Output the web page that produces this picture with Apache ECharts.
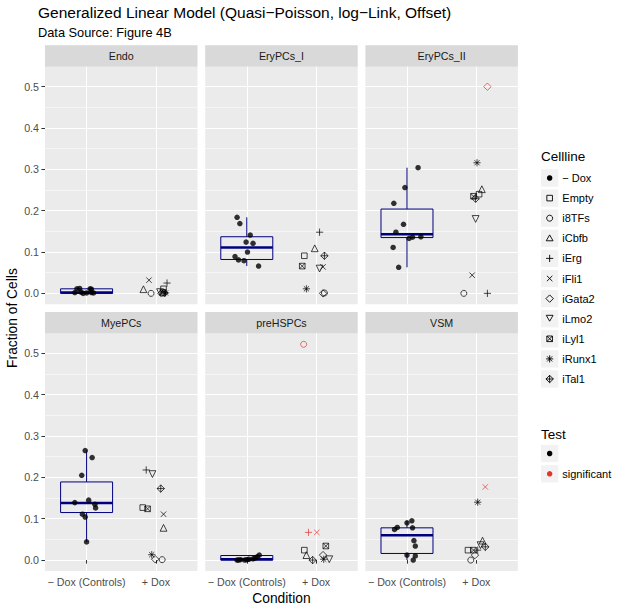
<!DOCTYPE html>
<html><head><meta charset="utf-8">
<script src="https://cdn.jsdelivr.net/npm/echarts@6/dist/echarts.min.js"></script>
<style>html,body{margin:0;padding:0;background:#fff}#c{width:617px;height:612px}</style>
</head><body><div id="c"></div>
<script>
// ---------------- data ----------------
const PANELS = ['Endo', 'EryPCs_I', 'EryPCs_II', 'MyePCs', 'preHSPCs', 'VSM'];
const CELLLINES = ['\u2212 Dox', 'Empty', 'i8TFs', 'iCbfb', 'iErg', 'iFli1', 'iGata2', 'iLmo2', 'iLyl1', 'iRunx1', 'iTal1'];
const DOX_LINES = CELLLINES.slice(1);
const X_LABELS = ['\u2212 Dox (Controls)', '+ Dox'];
const X_POS = [1, 2];
const Y_TICKS = [0, 0.1, 0.2, 0.3, 0.4, 0.5];
const Y_MINOR = [0.05, 0.15, 0.25, 0.35, 0.45];
const TEST_LEVELS = ['', 'significant'];

// controls (– Dox): jittered x position and fraction, per panel
const controlX = [
  [0.86, 0.90, 1.05, 1.07, 0.83, 0.95, 1.00, 1.07, 0.92, 1.10],
  [0.86, 0.90, 1.05, 0.99, 1.09, 1.01, 0.83, 0.88, 0.96, 1.17],
  [1.16, 0.97, 0.81, 0.95, 0.84, 1.03, 1.08, 1.20, 0.80, 0.88],
  [0.98, 1.08, 0.93, 0.83, 1.03, 1.12, 1.13, 0.94, 0.98, 1.00],
  [0.86, 0.91, 0.97, 1.03, 1.09, 1.15, 1.18, 0.88, 1.00, 1.12],
  [1.07, 1.00, 0.86, 0.82, 1.08, 1.10, 1.12, 1.00, 1.12, 1.09]
];
const controlY = [
  [0.011, 0.012, 0.011, 0.010, 0.002, 0.000, 0.001, 0.002, 0.003, 0.001],
  [0.184, 0.169, 0.141, 0.124, 0.121, 0.100, 0.089, 0.081, 0.079, 0.066],
  [0.304, 0.256, 0.218, 0.167, 0.148, 0.133, 0.136, 0.137, 0.111, 0.063],
  [0.265, 0.248, 0.205, 0.139, 0.145, 0.135, 0.126, 0.111, 0.104, 0.044],
  [0.000, 0.001, 0.000, 0.002, 0.003, 0.008, 0.012, 0.000, 0.001, 0.005],
  [0.095, 0.090, 0.079, 0.074, 0.078, 0.047, 0.034, 0.012, 0.010, 0.000]
];
// box statistics of controls: [lower whisker, Q1, median, Q3, upper whisker]
const boxStats = [
  [0.000, 0.000, 0.002, 0.011, 0.012],
  [0.066, 0.082, 0.111, 0.137, 0.184],
  [0.063, 0.135, 0.143, 0.204, 0.304],
  [0.044, 0.115, 0.138, 0.189, 0.265],
  [0.000, 0.000, 0.002, 0.011, 0.012],
  [0.000, 0.016, 0.060, 0.078, 0.095]
];
// + Dox lines, order = DOX_LINES
const doxX = [
  [2.11, 1.93, 1.82, 2.16, 1.90, 2.08, 2.06, 2.10, 2.14, 2.12],
  [1.83, 2.12, 1.98, 2.05, 2.10, 2.10, 2.05, 1.80, 1.86, 2.12],
  [2.04, 1.82, 2.08, 2.16, 1.94, 2.16, 1.99, 1.96, 2.01, 1.99],
  [1.81, 2.09, 2.11, 1.86, 2.11, 1.99, 1.95, 1.88, 1.94, 2.07],
  [1.83, 1.82, 1.86, 1.89, 2.01, 2.10, 2.19, 2.14, 2.11, 1.95],
  [1.88, 1.92, 2.09, 2.02, 2.13, 1.98, 2.06, 1.96, 2.02, 2.13]
];
const doxY = [
  [0.011, 0.000, 0.010, 0.025, 0.032, 0.000, 0.003, 0.002, 0.001, 0.001],
  [0.091, 0.001, 0.109, 0.148, 0.064, 0.000, 0.060, 0.066, 0.011, 0.091],
  [0.240, 0.000, 0.252, 0.000, 0.044, 0.500, 0.180, 0.235, 0.316, 0.229],
  [0.127, 0.001, 0.078, 0.218, 0.111, 0.002, 0.208, 0.124, 0.013, 0.173],
  [0.024, 0.522, 0.012, 0.067, 0.067, 0.012, 0.002, 0.034, 0.002, 0.000],
  [0.024, 0.000, 0.047, 0.024, 0.177, 0.012, 0.036, 0.024, 0.140, 0.032]
];
// 1 = significant
const doxSig = [
  [0, 0, 0, 0, 0, 0, 0, 0, 0, 0],
  [0, 0, 0, 0, 0, 0, 0, 0, 0, 0],
  [0, 0, 0, 0, 0, 1, 0, 0, 0, 0],
  [0, 0, 0, 0, 0, 0, 0, 0, 0, 0],
  [0, 1, 0, 1, 1, 0, 0, 0, 0, 0],
  [0, 0, 0, 0, 1, 0, 0, 0, 0, 0]
];

// ---------------- style ----------------
const FONT = 'Liberation Sans, Arial, Helvetica, sans-serif';
const NAVY = '#00007F';
const RED = '#E8322C';
const Y_MIN = -0.0262, Y_MAX = 0.5484;
const GL = [45, 205.2, 365.4], GW = 152.5;
const GT = [66.7, 333.4], GH = 237.5;
const STRIP_H = 21.5;
// symbol geometry in a 10x10 box: polygons (closed), lines, circle
const SQ = [[0,0],[10,0],[10,10],[0,10]], DIA = [[5,0],[10,5],[5,10],[0,5]];
const PLUS = [[5,0,5,10],[0,5,10,5]], CROSS = [[0,0,10,10],[10,0,0,10]];
const SHAPES = {
  '\u2212 Dox': { s: 5.5, fill: true, circle: true },
  'Empty':  { s: 5.6, poly: [SQ] },
  'i8TFs':  { s: 6, circle: true },
  'iCbfb':  { s: 6.8, poly: [[[5,0],[10,8.66],[0,8.66]]] },
  'iErg':   { s: 7.2, lines: PLUS },
  'iFli1':  { s: 5.4, lines: CROSS },
  'iGata2': { s: 7.4, poly: [DIA] },
  'iLmo2':  { s: 6.8, poly: [[[0,0],[10,0],[5,8.66]]] },
  'iLyl1':  { s: 5.6, poly: [SQ], lines: CROSS },
  'iRunx1': { s: 7.2, lines: PLUS.concat([[1.46,1.46,8.54,8.54],[8.54,1.46,1.46,8.54]]) },
  'iTal1':  { s: 7.4, poly: [DIA], lines: PLUS }
};
function symbolPath(sh) {
  if (sh.circle) return 'M5,0A5,5,0,1,1,5,10A5,5,0,1,1,5,0Z';
  let d = '';
  (sh.poly || []).forEach(pg => { d += 'M' + pg.map(q => q.join(',')).join('L') + 'Z'; });
  (sh.lines || []).forEach(l => { d += 'M' + l[0] + ',' + l[1] + 'L' + l[2] + ',' + l[3]; });
  return 'path://' + d;
}
function legendSymbol(sh, cx, cy, color) {
  const k = sh.s / 10, ox = cx - sh.s / 2, oy = cy - sh.s / 2;
  const els = [];
  if (sh.circle) {
    els.push({ type: 'circle', silent: true, shape: { cx: cx, cy: cy, r: sh.s / 2 },
      style: sh.fill ? { fill: color } : { fill: 'none', stroke: color, lineWidth: 0.9 } });
  }
  (sh.poly || []).forEach(pg => els.push({ type: 'polygon', silent: true,
    shape: { points: pg.map(q => [ox + q[0] * k, oy + q[1] * k]) },
    style: { fill: 'none', stroke: color, lineWidth: 0.9 } }));
  (sh.lines || []).forEach(l => els.push({ type: 'line', silent: true,
    shape: { x1: ox + l[0] * k, y1: oy + l[1] * k, x2: ox + l[2] * k, y2: oy + l[3] * k },
    style: { stroke: color, lineWidth: 0.9 } }));
  return els;
}

const grids = [], xAxes = [], yAxes = [], series = [], graphics = [];
PANELS.forEach((name, p) => {
  const row = Math.floor(p / 3), col = p % 3;
  const bottom = row === 1, left = col === 0;
  grids.push({ left: GL[col], top: GT[row], width: GW, height: GH, show: true,
    backgroundColor: '#EBEBEB', borderWidth: 0, containLabel: false });
  xAxes.push({ type: 'value', gridIndex: p, min: 0.4, max: 2.6,
    axisLine: { show: false },
    axisTick: { show: bottom, customValues: X_POS, length: 3.6, lineStyle: { color: '#333333', width: 1 } },
    axisLabel: { show: bottom, customValues: X_POS, margin: 6, color: '#4D4D4D', fontSize: 10.7, fontFamily: FONT,
      formatter: v => X_LABELS[X_POS.indexOf(Math.round(v))] },
    splitLine: { show: true, lineStyle: { color: '#FFFFFF', width: 1.1 } } });
  yAxes.push({ type: 'value', gridIndex: p, min: Y_MIN, max: Y_MAX,
    axisLine: { show: false },
    axisTick: { show: left, customValues: Y_TICKS, length: 3.6, lineStyle: { color: '#333333', width: 1 } },
    axisLabel: { show: left, customValues: Y_TICKS, margin: 6, color: '#4D4D4D', fontSize: 10.7, fontFamily: FONT,
      formatter: v => v.toFixed(1) },
    splitLine: { show: true, lineStyle: { color: '#FFFFFF', width: 1.1 } } });

  // strip
  graphics.push({ type: 'rect', silent: true, shape: { x: GL[col], y: GT[row] - STRIP_H, width: GW, height: STRIP_H },
    style: { fill: '#D9D9D9' } });
  graphics.push({ type: 'text', silent: true, x: GL[col] + GW / 2, y: GT[row] - STRIP_H / 2,
    style: { text: name, fill: '#1A1A1A', font: '10.7px ' + FONT, align: 'center', verticalAlign: 'middle' } });

  // boxplot of controls
  series.push({ type: 'custom', xAxisIndex: p, yAxisIndex: p, silent: true, z: 2,
    data: [[X_POS[0]].concat(boxStats[p])],
    encode: { x: 0, y: [1, 2, 3, 4, 5] },
    renderItem: (params, api) => {
      const x = api.value(0);
      const hw = api.size([0.375, 0])[0];
      const lo = api.coord([x, api.value(1)]), q1 = api.coord([x, api.value(2)]),
            md = api.coord([x, api.value(3)]), q3 = api.coord([x, api.value(4)]), hi = api.coord([x, api.value(5)]);
      return { type: 'group', children: [
        { type: 'line', shape: { x1: hi[0], y1: hi[1], x2: q3[0], y2: q3[1] }, style: { stroke: NAVY, lineWidth: 1 } },
        { type: 'line', shape: { x1: q1[0], y1: q1[1], x2: lo[0], y2: lo[1] }, style: { stroke: NAVY, lineWidth: 1 } },
        { type: 'rect', shape: { x: q3[0] - hw, y: q3[1], width: 2 * hw, height: q1[1] - q3[1] },
          style: { fill: 'none', stroke: NAVY, lineWidth: 1 } },
        { type: 'line', shape: { x1: md[0] - hw, y1: md[1], x2: md[0] + hw, y2: md[1] }, style: { stroke: NAVY, lineWidth: 2.6 } }
      ] };
    } });

  // control points
  series.push({ type: 'scatter', name: CELLLINES[0], xAxisIndex: p, yAxisIndex: p, z: 3, silent: true,
    symbol: 'circle', symbolSize: SHAPES[CELLLINES[0]].s,
    itemStyle: { color: '#000', borderWidth: 0 },
    data: controlX[p].map((x, i) => [x, controlY[p][i]]) });

  // + Dox points
  series.push({ type: 'scatter', name: '+ Dox', xAxisIndex: p, yAxisIndex: p, z: 4, silent: true,
    data: DOX_LINES.map((cl, j) => ({
      name: cl,
      value: [doxX[p][j], doxY[p][j]],
      symbol: SHAPES[cl].circle ? 'circle' : symbolPath(SHAPES[cl]),
      symbolSize: SHAPES[cl].s,
      itemStyle: { color: 'rgba(0,0,0,0)', borderColor: doxSig[p][j] ? RED : '#000', borderWidth: 0.9 }
    })) });
});
// minor grid lines
PANELS.forEach((name, p) => {
  yAxes.push({ type: 'value', gridIndex: p, min: Y_MIN, max: Y_MAX,
    axisLine: { show: false }, axisLabel: { show: false },
    axisTick: { show: false, customValues: Y_MINOR },
    splitLine: { show: true, lineStyle: { color: '#FFFFFF', width: 0.5 } } });
});

// axis titles
graphics.push({ type: 'text', silent: true, x: GL[1] + GW / 2, y: 598,
  style: { text: 'Condition', fill: '#000', font: '13.8px ' + FONT, align: 'center', verticalAlign: 'middle' } });
graphics.push({ type: 'text', silent: true, x: 12, y: (GT[0] - STRIP_H + GT[1] + GH) / 2 + 10, rotation: Math.PI / 2,
  style: { text: 'Fraction of Cells', fill: '#000', font: '13.8px ' + FONT, align: 'center', verticalAlign: 'middle' } });

// legends
const LX = 541, KEY = 17.3;
graphics.push({ type: 'text', silent: true, x: LX, y: 156,
  style: { text: 'Cellline', fill: '#000', font: '13.5px ' + FONT, align: 'left', verticalAlign: 'middle' } });
CELLLINES.forEach((cl, i) => {
  const cy = 178 + i * 20.1;
  graphics.push({ type: 'rect', silent: true, shape: { x: LX, y: cy - KEY / 2, width: KEY, height: KEY }, style: { fill: '#F2F2F2' } });
  legendSymbol(SHAPES[cl], LX + KEY / 2, cy, '#000').forEach(e => graphics.push(e));
  graphics.push({ type: 'text', silent: true, x: LX + KEY + 4, y: cy,
    style: { text: cl, fill: '#000', font: '11px ' + FONT, align: 'left', verticalAlign: 'middle' } });
});
graphics.push({ type: 'text', silent: true, x: LX, y: 434,
  style: { text: 'Test', fill: '#000', font: '13.5px ' + FONT, align: 'left', verticalAlign: 'middle' } });
TEST_LEVELS.forEach((lv, i) => {
  const cy = 453.5 + i * 20.3;
  graphics.push({ type: 'rect', silent: true, shape: { x: LX, y: cy - KEY / 2, width: KEY, height: KEY }, style: { fill: '#F2F2F2' } });
  graphics.push({ type: 'circle', silent: true, shape: { cx: LX + KEY / 2, cy: cy, r: 2.75 }, style: { fill: i ? RED : '#000' } });
  graphics.push({ type: 'text', silent: true, x: LX + KEY + 4, y: cy,
    style: { text: lv, fill: '#000', font: '11px ' + FONT, align: 'left', verticalAlign: 'middle' } });
});

const chart = echarts.init(document.getElementById('c'), null, { renderer: 'svg' });
chart.setOption({
  animation: false,
  backgroundColor: '#FFFFFF',
  title: { text: 'Generalized Linear Model (Quasi\u2212Poisson, log\u2212Link, Offset)', subtext: 'Data Source: Figure 4B',
    left: 38, top: 4, padding: 0, itemGap: 6,
    textStyle: { fontFamily: FONT, fontSize: 15.5, fontWeight: 'normal', color: '#000' },
    subtextStyle: { fontFamily: FONT, fontSize: 12.8, color: '#000' } },
  grid: grids, xAxis: xAxes, yAxis: yAxes, series: series, graphic: graphics
});
</script></body></html>
